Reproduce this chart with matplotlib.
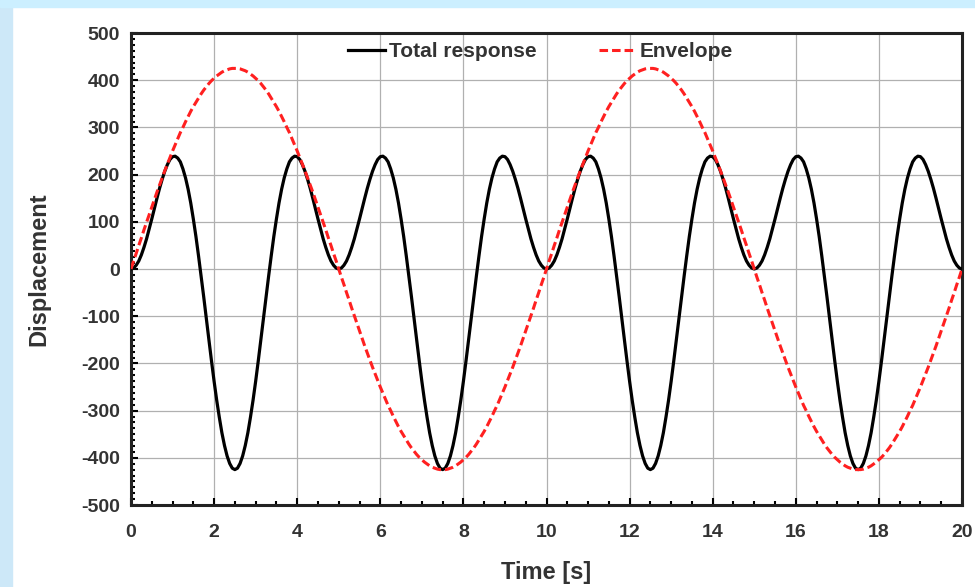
import numpy as np
import matplotlib
matplotlib.use("Agg")
import matplotlib.pyplot as plt
from matplotlib.ticker import MultipleLocator
from matplotlib.patches import Rectangle

# total response for 0-5 s every 0.0625 s (repeats every 5 s)
total_0_5 = [0, 2, 8, 17, 30, 46, 64, 85, 106, 128, 150, 171, 190, 207, 221,
             232, 238, 239, 235, 227, 212, 193, 169, 140, 106, 69, 28, -15,
             -59, -105, -150, -195, -238, -278, -314, -347, -374, -396, -412,
             -422, -425, -422, -412, -396, -374, -347, -314, -278, -238, -195,
             -150, -105, -59, -15, 28, 69, 106, 140, 169, 193, 212, 227, 235,
             239, 238, 232, 221, 207, 190, 171, 150, 128, 106, 85, 64, 46, 30,
             17, 8, 2]

# envelope for 0-5 s (flips sign for 5-10 s)
env_0_5 = [0, 17, 33, 50, 66, 83, 99, 115, 131, 147, 163, 178, 193, 208, 222,
           236, 250, 263, 276, 289, 300, 312, 323, 334, 344, 353, 362, 371,
           379, 386, 393, 399, 404, 409, 413, 417, 420, 422, 424, 425, 425,
           425, 424, 422, 420, 417, 413, 409, 404, 399, 393, 386, 379, 371,
           362, 353, 344, 334, 323, 312, 300, 289, 276, 263, 250, 236, 222,
           208, 193, 178, 163, 147, 131, 115, 99, 83, 66, 50, 33, 17]

total = total_0_5 * 4 + [0]
envelope = (env_0_5 + [-v for v in env_0_5]) * 2 + [0]
time = np.arange(len(total)) * 0.0625

x_ticks = [0, 2, 4, 6, 8, 10, 12, 14, 16, 18, 20]
y_ticks = [-500, -400, -300, -200, -100, 0, 100, 200, 300, 400, 500]

plt.rcParams['font.family'] = ['Liberation Sans', 'DejaVu Sans']
plt.rcParams['axes.unicode_minus'] = False

fig = plt.figure(figsize=(9.75, 5.87), dpi=100, facecolor='white')
# light blue frame on the left and top
fig.patches.append(Rectangle((0, 0), 12 / 975, 1, transform=fig.transFigure,
                             color='#cde8f8', zorder=0))
fig.patches.append(Rectangle((0, 1 - 7 / 587), 1, 7 / 587, transform=fig.transFigure,
                             color='#ccefff', zorder=0))

ax = fig.add_axes([131 / 975, 1 - 505 / 587, 831 / 975, 472 / 587])

ax.plot(time, total, color='black', lw=2.3, label='Total response', zorder=3)
ax.plot(time, envelope, color='#ff2020', lw=2.2, dashes=(2.8, 1.3),
        label='Envelope', zorder=4)

ax.set_xlim(0, 20)
ax.set_ylim(-500, 500)
ax.set_xticks(x_ticks)
ax.set_yticks(y_ticks)
ax.xaxis.set_minor_locator(MultipleLocator(0.5))
ax.yaxis.set_minor_locator(MultipleLocator(12.5))
ax.tick_params(which='both', direction='in', top=False, right=False,
               labelsize=14, width=1.5)
ax.tick_params(axis='x', pad=14)
ax.tick_params(axis='y', pad=8)
ax.tick_params(which='major', length=5)
ax.tick_params(which='minor', length=3)
for lab in ax.get_xticklabels() + ax.get_yticklabels():
    lab.set_fontweight('bold')
    lab.set_color('#333333')

ax.grid(True, which='major', color='#b0b0b0', lw=0.9)
for s in ax.spines.values():
    s.set_linewidth(2.2)
    s.set_color('#222222')

ax.set_xlabel('Time [s]', fontsize=17, fontweight='bold', color='#333333', labelpad=14)
ax.set_ylabel('Displacement', fontsize=17, fontweight='bold', color='#333333', labelpad=22)

leg = ax.legend(loc='upper center', ncol=2, frameon=False,
                prop={'weight': 'bold', 'size': 15}, handlelength=1.75,
                handletextpad=0.2, columnspacing=3.0,
                bbox_to_anchor=(0.493, 1.02))
for t in leg.get_texts():
    t.set_color('#333333')

fig.savefig('out.png', dpi=100, facecolor='white')
